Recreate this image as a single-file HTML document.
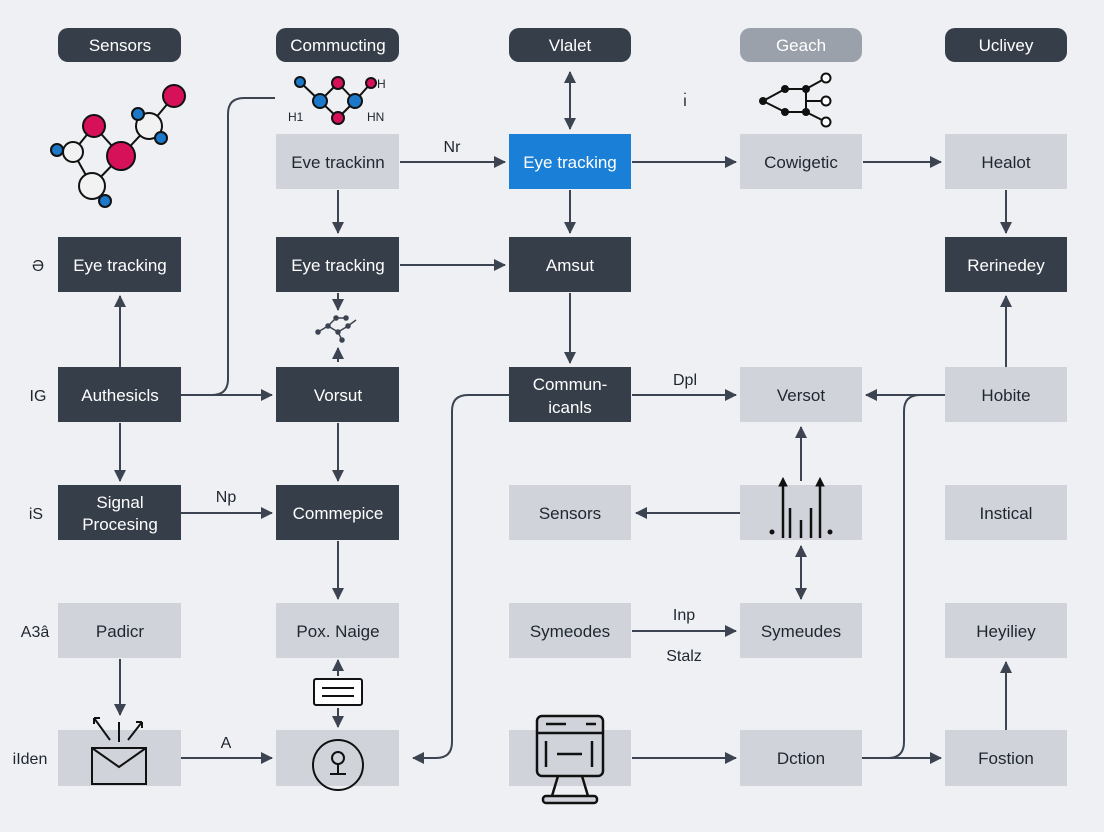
<!DOCTYPE html>
<html><head><meta charset="utf-8"><style>
html,body{margin:0;padding:0;background:#eef0f3;}
svg{display:block;font-family:"Liberation Sans",sans-serif;}
</style></head><body>
<svg width="1104" height="832" viewBox="0 0 1104 832" xmlns="http://www.w3.org/2000/svg">
<defs>
<marker id="a" markerWidth="12" markerHeight="12" refX="11" refY="6" orient="auto" markerUnits="userSpaceOnUse"><path d="M0,0 L12,6 L0,12 z" fill="#3b4450"/></marker>
<marker id="s" markerWidth="12" markerHeight="12" refX="1" refY="6" orient="auto" markerUnits="userSpaceOnUse"><path d="M12,0 L0,6 L12,12 z" fill="#3b4450"/></marker>
</defs>
<rect width="1104" height="832" fill="#eef0f3"/>
<g font-size="17" text-anchor="middle">
<rect x="58" y="28" width="123" height="34" rx="10" fill="#363e49"/><text x="120" y="51" fill="#fff">Sensors</text>
<rect x="276" y="28" width="123" height="34" rx="10" fill="#363e49"/><text x="338" y="51" fill="#fff">Commucting</text>
<rect x="509" y="28" width="122" height="34" rx="10" fill="#363e49"/><text x="570" y="51" fill="#fff">Vlalet</text>
<rect x="740" y="28" width="122" height="34" rx="10" fill="#9ba1aa"/><text x="801" y="51" fill="#fff">Geach</text>
<rect x="945" y="28" width="122" height="34" rx="10" fill="#363e49"/><text x="1006" y="51" fill="#fff">Uclivey</text>
</g>
<g stroke="#3b4450" stroke-width="2" fill="none">
<line x1="570" y1="72" x2="570" y2="129" marker-start="url(#s)" marker-end="url(#a)"/>
<line x1="400" y1="162" x2="505" y2="162" marker-end="url(#a)"/>
<line x1="632" y1="162" x2="736" y2="162" marker-end="url(#a)"/>
<line x1="863" y1="162" x2="941" y2="162" marker-end="url(#a)"/>
<line x1="338" y1="190" x2="338" y2="233" marker-end="url(#a)"/>
<line x1="570" y1="190" x2="570" y2="233" marker-end="url(#a)"/>
<line x1="1006" y1="190" x2="1006" y2="233" marker-end="url(#a)"/>
<line x1="400" y1="265" x2="505" y2="265" marker-end="url(#a)"/>
<line x1="338" y1="293" x2="338" y2="310" marker-end="url(#a)"/>
<line x1="338" y1="362" x2="338" y2="348" marker-end="url(#a)"/>
<line x1="570" y1="293" x2="570" y2="363" marker-end="url(#a)"/>
<line x1="120" y1="367" x2="120" y2="296" marker-end="url(#a)"/>
<line x1="181" y1="395" x2="272" y2="395" marker-end="url(#a)"/>
<path d="M181,395 H212 Q228,395 228,379 V114 Q228,98 244,98 H275"/>
<line x1="120" y1="423" x2="120" y2="481" marker-end="url(#a)"/>
<line x1="338" y1="423" x2="338" y2="481" marker-end="url(#a)"/>
<line x1="181" y1="513" x2="272" y2="513" marker-end="url(#a)"/>
<line x1="338" y1="541" x2="338" y2="599" marker-end="url(#a)"/>
<line x1="632" y1="395" x2="736" y2="395" marker-end="url(#a)"/>
<line x1="945" y1="395" x2="866" y2="395" marker-end="url(#a)"/>
<line x1="801" y1="481" x2="801" y2="427" marker-end="url(#a)"/>
<line x1="740" y1="513" x2="636" y2="513" marker-end="url(#a)"/>
<line x1="801" y1="546" x2="801" y2="599" marker-start="url(#s)" marker-end="url(#a)"/>
<line x1="632" y1="631" x2="736" y2="631" marker-end="url(#a)"/>
<line x1="1006" y1="367" x2="1006" y2="296" marker-end="url(#a)"/>
<line x1="1006" y1="730" x2="1006" y2="662" marker-end="url(#a)"/>
<line x1="862" y1="758" x2="941" y2="758" marker-end="url(#a)"/>
<line x1="632" y1="758" x2="736" y2="758" marker-end="url(#a)"/>
<path d="M862,758 H888 Q904,758 904,742 V411 Q904,395 920,395 H945"/>
<path d="M509,395 H468 Q452,395 452,411 V742 Q452,758 436,758 H413" marker-end="url(#a)"/>
<line x1="120" y1="659" x2="120" y2="715" marker-end="url(#a)"/>
<line x1="181" y1="758" x2="272" y2="758" marker-end="url(#a)"/>
<line x1="338" y1="676" x2="338" y2="660" marker-end="url(#a)"/>
<line x1="338" y1="708" x2="338" y2="727" marker-end="url(#a)"/>
</g>
<g fill="#d0d4da">
<rect x="276" y="134" width="123" height="55"/><rect x="740" y="134" width="122" height="55"/><rect x="945" y="134" width="122" height="55"/>
<rect x="740" y="367" width="122" height="55"/><rect x="945" y="367" width="122" height="55"/>
<rect x="509" y="485" width="122" height="55"/><rect x="740" y="485" width="122" height="55"/><rect x="945" y="485" width="122" height="55"/>
<rect x="58" y="603" width="123" height="55"/><rect x="276" y="603" width="123" height="55"/><rect x="509" y="603" width="122" height="55"/><rect x="740" y="603" width="122" height="55"/><rect x="945" y="603" width="122" height="55"/>
<rect x="58" y="730" width="123" height="56"/><rect x="276" y="730" width="123" height="56"/><rect x="509" y="730" width="122" height="56"/><rect x="740" y="730" width="122" height="56"/><rect x="945" y="730" width="122" height="56"/>
</g>
<rect x="509" y="134" width="122" height="55" fill="#1a7fd6"/>
<g fill="#363e49">
<rect x="58" y="237" width="123" height="55"/><rect x="276" y="237" width="123" height="55"/><rect x="509" y="237" width="122" height="55"/><rect x="945" y="237" width="122" height="55"/>
<rect x="58" y="367" width="123" height="55"/><rect x="276" y="367" width="123" height="55"/><rect x="509" y="367" width="122" height="55"/>
<rect x="58" y="485" width="123" height="55"/><rect x="276" y="485" width="123" height="55"/>
</g>
<g font-size="17" text-anchor="middle" fill="#fff">
<text x="570" y="168">Eye tracking</text>
<text x="120" y="271">Eye tracking</text><text x="338" y="271">Eye tracking</text><text x="570" y="271">Amsut</text><text x="1006" y="271">Rerinedey</text>
<text x="120" y="401">Authesicls</text><text x="338" y="401">Vorsut</text>
<text x="570" y="390">Commun-</text><text x="570" y="413">icanls</text>
<text x="120" y="508">Signal</text><text x="120" y="530">Procesing</text><text x="338" y="519">Commepice</text>
</g>
<g font-size="17" text-anchor="middle" fill="#1f2630">
<text x="338" y="168">Eve trackinn</text><text x="801" y="168">Cowigetic</text><text x="1006" y="168">Healot</text>
<text x="801" y="401">Versot</text><text x="1006" y="401">Hobite</text>
<text x="570" y="519">Sensors</text><text x="1006" y="519">Instical</text>
<text x="120" y="637">Padicr</text><text x="338" y="637">Pox. Naige</text><text x="570" y="637">Symeodes</text><text x="801" y="637">Symeudes</text><text x="1006" y="637">Heyiliey</text>
<text x="801" y="764">Dction</text><text x="1006" y="764">Fostion</text>
</g>
<g font-size="16" fill="#1f2630" text-anchor="middle">
<text x="452" y="152">Nr</text><text x="685" y="385">Dpl</text><text x="226" y="502">Np</text>
<text x="684" y="620">Inp</text><text x="684" y="661">Stalz</text><text x="226" y="748">A</text>
<text x="685" y="106">ı̇</text>
<text x="38" y="271">Ə</text><text x="38" y="401">IG</text><text x="36" y="519">iS</text><text x="35" y="637">A3â</text><text x="30" y="764">iIden</text>
</g>
<g stroke="#111" stroke-width="2">
<line x1="57" y1="150" x2="73" y2="152"/><line x1="73" y1="152" x2="94" y2="126"/><line x1="73" y1="152" x2="92" y2="186"/>
<line x1="94" y1="126" x2="121" y2="156"/><line x1="121" y1="156" x2="92" y2="186"/><line x1="121" y1="156" x2="149" y2="126"/>
<line x1="149" y1="126" x2="174" y2="96"/><line x1="149" y1="126" x2="138" y2="114"/><line x1="149" y1="126" x2="161" y2="138"/><line x1="92" y1="186" x2="105" y2="201"/>
<circle cx="73" cy="152" r="10" fill="#f2f2f2"/><circle cx="94" cy="126" r="11" fill="#d6115a"/><circle cx="121" cy="156" r="14" fill="#d6115a"/>
<circle cx="149" cy="126" r="13" fill="#f2f2f2"/><circle cx="174" cy="96" r="11" fill="#d6115a"/><circle cx="92" cy="186" r="13" fill="#f2f2f2"/>
<circle cx="57" cy="150" r="6" fill="#1c78c8"/><circle cx="138" cy="114" r="6" fill="#1c78c8"/><circle cx="161" cy="138" r="6" fill="#1c78c8"/><circle cx="105" cy="201" r="6" fill="#1c78c8"/>
</g>
<g stroke="#111" stroke-width="2">
<line x1="300" y1="82" x2="320" y2="101"/><line x1="320" y1="101" x2="338" y2="83"/><line x1="338" y1="83" x2="355" y2="101"/><line x1="320" y1="101" x2="338" y2="118"/><line x1="338" y1="118" x2="355" y2="101"/><line x1="355" y1="101" x2="371" y2="83"/>
<circle cx="300" cy="82" r="5" fill="#1c78c8"/><circle cx="320" cy="101" r="7" fill="#1c78c8"/><circle cx="338" cy="83" r="6" fill="#d6115a"/><circle cx="355" cy="101" r="7" fill="#1c78c8"/><circle cx="338" cy="118" r="6" fill="#d6115a"/><circle cx="371" cy="83" r="5" fill="#d6115a"/>
</g>
<g font-size="12" fill="#1f2630"><text x="288" y="121">H1</text><text x="367" y="121">HN</text><text x="377" y="88">H</text></g>
<g stroke="#111" stroke-width="2" fill="#fff">
<line x1="763" y1="101" x2="785" y2="89"/><line x1="763" y1="101" x2="785" y2="112"/><line x1="785" y1="89" x2="806" y2="89"/><line x1="785" y1="112" x2="806" y2="112"/><line x1="806" y1="89" x2="826" y2="78"/><line x1="806" y1="112" x2="826" y2="122"/><line x1="806" y1="89" x2="806" y2="112"/><line x1="806" y1="101" x2="826" y2="101"/>
<circle cx="763" cy="101" r="3" fill="#111"/><circle cx="785" cy="89" r="3" fill="#111"/><circle cx="785" cy="112" r="3" fill="#111"/><circle cx="806" cy="89" r="3" fill="#111"/><circle cx="806" cy="112" r="3" fill="#111"/>
<circle cx="826" cy="78" r="4.5"/><circle cx="826" cy="101" r="4.5"/><circle cx="826" cy="122" r="4.5"/>
</g>
<g stroke="#3b4450" stroke-width="1.5" fill="#3b4450"><path d="M318,332 L328,326 L338,332 L348,326 L356,320 M328,326 L336,318 L346,318 M338,332 L342,340" fill="none"/>
<circle cx="318" cy="332" r="2"/><circle cx="328" cy="326" r="2"/><circle cx="338" cy="332" r="2"/><circle cx="348" cy="326" r="2"/><circle cx="336" cy="318" r="2"/><circle cx="346" cy="318" r="2"/><circle cx="342" cy="340" r="2"/></g>
<g stroke="#111" stroke-width="2.5" fill="#111">
<line x1="783" y1="538" x2="783" y2="483"/><line x1="790" y1="538" x2="790" y2="508"/><line x1="801" y1="538" x2="801" y2="520"/><line x1="811" y1="538" x2="811" y2="508"/><line x1="820" y1="538" x2="820" y2="483"/>
<path d="M779,486 L783,478 L787,486z" stroke-width="1"/><path d="M816,486 L820,478 L824,486z" stroke-width="1"/>
<circle cx="772" cy="532" r="2.5" stroke="none"/><circle cx="830" cy="532" r="2.5" stroke="none"/>
</g>
<rect x="314" y="679" width="48" height="26" rx="2" fill="#fff" stroke="#111" stroke-width="2"/>
<line x1="322" y1="688" x2="354" y2="688" stroke="#111" stroke-width="2"/><line x1="322" y1="696" x2="354" y2="696" stroke="#111" stroke-width="2"/>
<circle cx="338" cy="765" r="25" fill="none" stroke="#111" stroke-width="2"/>
<circle cx="338" cy="758" r="6" fill="none" stroke="#111" stroke-width="2"/><path d="M330,774 H346 M338,764 V774" stroke="#111" stroke-width="2"/>
<rect x="92" y="748" width="54" height="36" fill="#d0d4da" stroke="#111" stroke-width="2"/>
<path d="M92,748 L119,767 L146,748" fill="none" stroke="#111" stroke-width="2"/>
<g stroke="#111" stroke-width="2" fill="none"><path d="M110,740 L94,718 M94,718 v6 M94,718 h6"/><path d="M128,740 L142,722 M142,722 v6 M142,722 h-6"/><line x1="119" y1="742" x2="119" y2="722"/></g>
<g stroke="#111" stroke-width="2.5" fill="#d0d4da">
<rect x="537" y="716" width="66" height="60" rx="5"/><line x1="537" y1="733" x2="603" y2="733"/>
<line x1="546" y1="724" x2="566" y2="724"/><line x1="586" y1="724" x2="596" y2="724"/>
<path d="M546,741 V767 M592,741 V767 M557,754 H582" fill="none"/>
<path d="M558,776 L552,796 M582,776 L588,796" fill="none"/><rect x="543" y="796" width="54" height="7" rx="3"/>
</g>
</svg>
</body></html>
